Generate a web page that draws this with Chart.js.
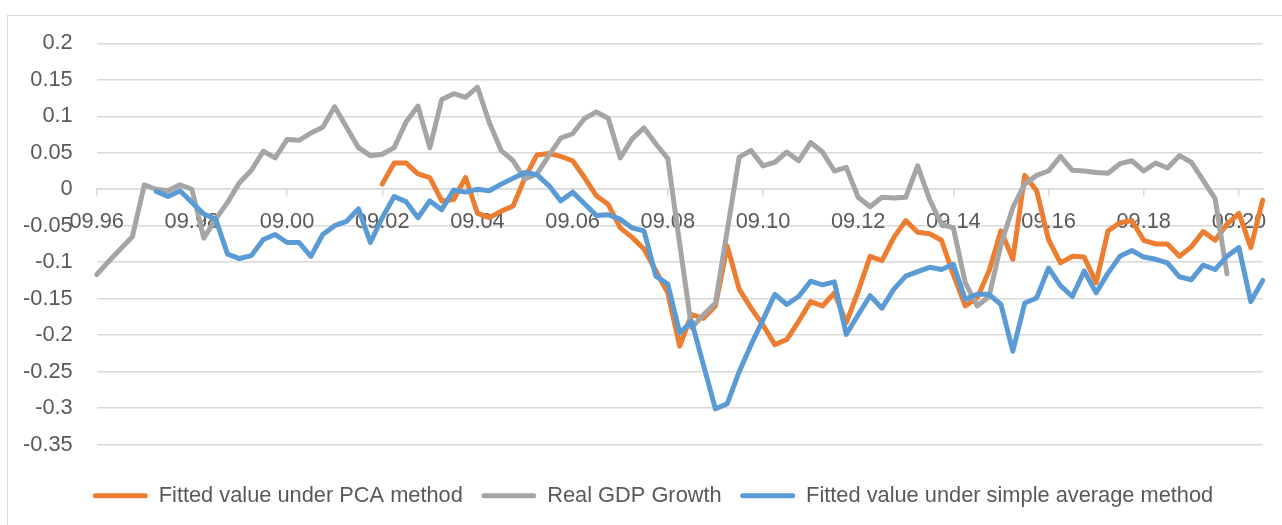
<!DOCTYPE html>
<html>
<head>
<meta charset="utf-8">
<title>GDP growth fitted values</title>
<script src="https://cdn.jsdelivr.net/npm/chart.js@4.4.1/dist/chart.umd.min.js"></script>
<style>
  html, body { margin: 0; padding: 0; background: #fff; overflow: hidden; }
  #frame { position: absolute; left: 7px; top: 15px; width: 1290px; height: 540px; border: 1px solid #d9d9d9; }
  #wrap { position: absolute; left: 0; top: 0; width: 1290px; height: 540px; }
</style>
</head>
<body>
<div id="frame"><div id="wrap"><canvas id="gdpChart"></canvas></div></div>
<script>
// quarters, MM.YY
const quarters = [
  '09.96', '12.96',
  '03.97', '06.97', '09.97', '12.97', '03.98', '06.98', '09.98', '12.98',
  '03.99', '06.99', '09.99', '12.99', '03.00', '06.00', '09.00', '12.00',
  '03.01', '06.01', '09.01', '12.01', '03.02', '06.02', '09.02', '12.02',
  '03.03', '06.03', '09.03', '12.03', '03.04', '06.04', '09.04', '12.04',
  '03.05', '06.05', '09.05', '12.05', '03.06', '06.06', '09.06', '12.06',
  '03.07', '06.07', '09.07', '12.07', '03.08', '06.08', '09.08', '12.08',
  '03.09', '06.09', '09.09', '12.09', '03.10', '06.10', '09.10', '12.10',
  '03.11', '06.11', '09.11', '12.11', '03.12', '06.12', '09.12', '12.12',
  '03.13', '06.13', '09.13', '12.13', '03.14', '06.14', '09.14', '12.14',
  '03.15', '06.15', '09.15', '12.15', '03.16', '06.16', '09.16', '12.16',
  '03.17', '06.17', '09.17', '12.17', '03.18', '06.18', '09.18', '12.18',
  '03.19', '06.19', '09.19', '12.19', '03.20', '06.20', '09.20', '12.20',
  '03.21'
];

const pcaFitted = [
  null, null, null, null, null, null, null, null,
  null, null, null, null, null, null, null, null,
  null, null, null, null, null, null, null, null,
  0.007, 0.036, 0.036, 0.021, 0.016, -0.016, -0.014, 0.016,
  -0.033, -0.039, -0.030, -0.023, 0.016, 0.047, 0.049, 0.045,
  0.039, 0.016, -0.009, -0.021, -0.053, -0.066, -0.082, -0.112,
  -0.142, -0.215, -0.172, -0.177, -0.160, -0.078, -0.137, -0.163,
  -0.186, -0.213, -0.206, -0.181, -0.154, -0.160, -0.142, -0.183,
  -0.140, -0.092, -0.098, -0.066, -0.043, -0.059, -0.061, -0.070,
  -0.117, -0.160, -0.149, -0.112, -0.057, -0.096, 0.019, -0.002,
  -0.069, -0.101, -0.092, -0.093, -0.128, -0.057, -0.046, -0.043,
  -0.070, -0.075, -0.075, -0.092, -0.079, -0.058, -0.070, -0.048,
  -0.033, -0.080, -0.015
];

const realGdpGrowth = [
  -0.117, -0.099, -0.082, -0.065, 0.006, 0.000, -0.002, 0.006,
  0.000, -0.067, -0.041, -0.018, 0.009, 0.026, 0.052, 0.043,
  0.068, 0.067, 0.077, 0.085, 0.113, 0.085, 0.057, 0.046,
  0.048, 0.057, 0.092, 0.114, 0.057, 0.123, 0.131, 0.126,
  0.140, 0.091, 0.053, 0.039, 0.014, 0.021, 0.046, 0.070,
  0.076, 0.097, 0.106, 0.097, 0.043, 0.069, 0.084, 0.062,
  0.042, -0.075, -0.190, -0.172, -0.156, -0.056, 0.044, 0.053,
  0.032, 0.037, 0.051, 0.039, 0.064, 0.051, 0.025, 0.030,
  -0.011, -0.024, -0.011, -0.012, -0.011, 0.032, -0.014, -0.048,
  -0.053, -0.128, -0.160, -0.147, -0.076, -0.025, 0.007, 0.019,
  0.025, 0.045, 0.026, 0.025, 0.023, 0.022, 0.035, 0.039,
  0.025, 0.036, 0.029, 0.046, 0.037, 0.012, -0.013, -0.116,
  null, null, null
];

const simpleAvgFitted = [
  null, null, null, null, null, -0.003, -0.010, -0.002,
  -0.018, -0.034, -0.041, -0.089, -0.095, -0.091, -0.069, -0.062,
  -0.073, -0.073, -0.092, -0.062, -0.050, -0.044, -0.027, -0.073,
  -0.039, -0.010, -0.017, -0.039, -0.016, -0.028, -0.001, -0.004,
  0.000, -0.002, 0.007, 0.015, 0.023, 0.020, 0.005, -0.016,
  -0.004, -0.020, -0.036, -0.035, -0.041, -0.053, -0.057, -0.119,
  -0.130, -0.197, -0.181, -0.241, -0.301, -0.294, -0.250, -0.213,
  -0.179, -0.144, -0.158, -0.147, -0.126, -0.131, -0.127, -0.199,
  -0.172, -0.146, -0.163, -0.137, -0.119, -0.113, -0.107, -0.110,
  -0.103, -0.151, -0.144, -0.144, -0.158, -0.222, -0.156, -0.149,
  -0.108, -0.132, -0.147, -0.112, -0.142, -0.115, -0.092, -0.084,
  -0.093, -0.096, -0.101, -0.120, -0.124, -0.104, -0.110, -0.092,
  -0.080, -0.154, -0.125
];

const yTicks = [0.2, 0.15, 0.1, 0.05, 0, -0.05, -0.1, -0.15, -0.2, -0.25, -0.3, -0.35];

const textColor = '#595959';
const gridColor = '#d9d9d9';
const fontFamily = '"Liberation Sans", Arial, sans-serif';
const fontSize = 21.8;

function buildChart(canvasId) {
  const ctx = document.getElementById(canvasId).getContext('2d');

  const mkLine = (label, data, color, order) => ({
    label,
    data,
    borderColor: color,
    backgroundColor: color,
    borderWidth: 5,
    pointRadius: 0,
    pointHoverRadius: 0,
    tension: 0,
    fill: false,
    spanGaps: false,
    borderJoinStyle: 'round',
    borderCapStyle: 'round',
    order
  });

  // excel draws series 1 first, so blue ends up on top
  const datasets = [
    mkLine('Fitted value under PCA method', pcaFitted, '#ED7D31', 2),
    mkLine('Real GDP Growth', realGdpGrowth, '#A5A5A5', 1),
    mkLine('Fitted value under simple average method', simpleAvgFitted, '#5B9BD5', 0)
  ];

  return new Chart(ctx, {
    type: 'line',
    data: { labels: quarters, datasets },
    options: {
      responsive: true,
      maintainAspectRatio: false,
      animation: false,
      events: [],
      layout: { padding: { left: 0, right: 0, top: 27.3, bottom: 39.3 } },
      plugins: {
        tooltip: { enabled: false },
        legend: {
          position: 'bottom',
          // empty title only used as a spacer between plot and legend
          title: { display: true, text: '', font: { size: 1 }, padding: { top: 20.6, bottom: 0 } },
          labels: {
            boxWidth: 55,
            boxHeight: 5,
            padding: 18.5,
            color: textColor,
            useBorderRadius: true,
            font: { family: fontFamily, size: fontSize },
            sort: (a, b) => a.datasetIndex - b.datasetIndex,
            generateLabels: chart => chart.data.datasets.map((ds, i) => ({
              text: ds.label,
              fillStyle: ds.borderColor,
              strokeStyle: ds.borderColor,
              lineWidth: 0,
              borderRadius: 2.5,
              fontColor: textColor,
              hidden: false,
              datasetIndex: i
            }))
          }
        }
      },
      scales: {
        x: {
          type: 'category',
          position: { y: 0 },
          offset: false,
          grid: {
            display: true,
            drawOnChartArea: false,
            drawTicks: true,
            tickLength: 7,
            lineWidth: 1.5,
            color: c => (c.index % 8 === 0 ? gridColor : 'rgba(0,0,0,0)')
          },
          border: { display: true, color: gridColor, width: 1.5 },
          ticks: {
            autoSkip: false,
            maxRotation: 0,
            minRotation: 0,
            padding: 12.7,
            color: textColor,
            font: { family: fontFamily, size: fontSize },
            callback: (v, i) => (i % 8 === 0 ? quarters[i] : '')
          }
        },
        y: {
          min: -0.35,
          max: 0.2,
          afterFit: scale => { scale.width = 88.7; },
          afterBuildTicks: scale => { scale.ticks = yTicks.map(v => ({ value: v })); },
          // invisible tick marks give the gap between labels and plot
          grid: { color: gridColor, lineWidth: 1.5, drawTicks: true, tickLength: 24, tickColor: 'rgba(0,0,0,0)' },
          border: { display: false },
          ticks: {
            padding: 0,
            color: textColor,
            font: { family: fontFamily, size: fontSize },
            callback: v => String(Math.round(v * 100) / 100)
          }
        },
        // blank right-hand scale, keeps the plot narrower than the legend row
        yRight: {
          position: 'right',
          display: true,
          afterFit: scale => { scale.width = 35.3; },
          grid: { display: false },
          border: { display: false },
          ticks: { display: false }
        }
      }
    }
  });
}

buildChart('gdpChart');
</script>
</body>
</html>
